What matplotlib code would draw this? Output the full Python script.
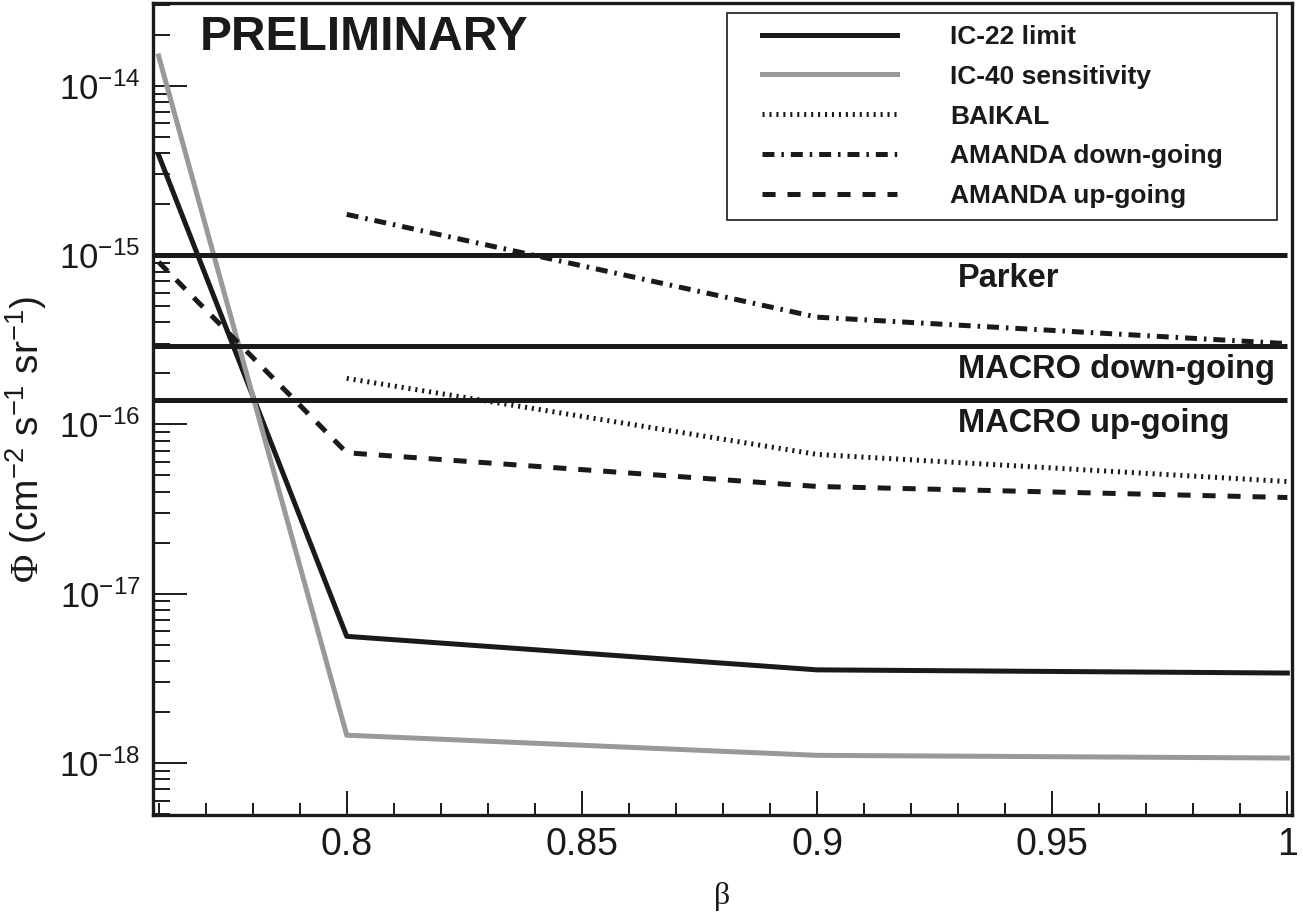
import numpy as np
import matplotlib
matplotlib.use('Agg')
import matplotlib.pyplot as plt
from matplotlib.lines import Line2D
from matplotlib.legend_handler import HandlerLine2D
from matplotlib.ticker import LogLocator, FuncFormatter, MultipleLocator, NullFormatter, FixedLocator

plt.rcParams['font.family'] = ['Liberation Sans', 'DejaVu Sans']
plt.rcParams['mathtext.fontset'] = 'custom'
plt.rcParams['mathtext.rm'] = 'Liberation Serif'
plt.rcParams['mathtext.sf'] = 'Liberation Sans'
plt.rcParams['mathtext.default'] = 'sf'
plt.rcParams['lines.scale_dashes'] = False

# values
beta_ic = [0.76, 0.8, 0.9, 1.0]
ic22_limit = [3.9e-15, 5.6e-18, 3.55e-18, 3.4e-18]
ic40_sens = [1.5e-14, 1.46e-18, 1.11e-18, 1.07e-18]

beta_other = [0.8, 0.9, 1.0]
baikal = [1.87e-16, 6.65e-17, 4.6e-17]
amanda_down = [1.74e-15, 4.3e-16, 3.0e-16]

beta_amanda_up = [0.76, 0.8, 0.9, 1.0]
amanda_up = [9.1e-16, 6.8e-17, 4.3e-17, 3.7e-17]

limit_names = ['Parker', 'MACRO down-going', 'MACRO up-going']
limit_values = [1.0e-15, 2.9e-16, 1.4e-16]

y_decades = [-18, -17, -16, -15, -14]

black = '#1a1a1a'
gray = '#999999'
lw = 3.6
xmin, xmax = 0.7588, 1.001


class OffsetLine(HandlerLine2D):
    # legend line starts a bit right of the handle box
    def get_xdata(self, legend, xdescent, ydescent, width, height, fontsize):
        x0 = -xdescent + 16.5
        x1 = -xdescent + width
        return [x0, x1], [(x0 + x1) / 2]


fig = plt.figure(figsize=(13.03, 9.15), dpi=100)
ax = fig.add_axes([0.1174, 0.1093, 0.9916 - 0.1174, 0.9967 - 0.1093])

ax.plot(beta_ic, ic22_limit, color=black, lw=lw, label='IC-22 limit')
ax.plot(beta_ic, ic40_sens, color=gray, lw=lw, label='IC-40 sensitivity')
ax.plot(beta_other, baikal, color=black, lw=lw, dashes=(1.5, 3.5),
        dash_capstyle='butt', label='BAIKAL')
ax.plot(beta_other, amanda_down, color=black, lw=lw, dashes=(8.6, 5, 1.8, 5),
        dash_capstyle='butt', label='AMANDA down-going')
ax.plot(beta_amanda_up, amanda_up, color=black, lw=lw, dashes=(9.4, 8.6),
        dash_capstyle='butt', label='AMANDA up-going')

for name, val in zip(limit_names, limit_values):
    ax.hlines(val, xmin, 1.0, color=black, lw=lw)
    ax.annotate(name, (0.93, val), xytext=(0, -17), textcoords='offset points',
                fontsize=23.5, fontweight='bold', va='center', ha='left', color=black)

ax.text(0.041, 0.958, 'PRELIMINARY', transform=ax.transAxes, fontsize=34.5,
        fontweight='bold', va='center', ha='left', color=black)

ax.set_yscale('log')
ax.set_xlim(xmin, xmax)
ax.set_ylim(10 ** -18.307, 10 ** -13.511)

ax.xaxis.set_major_locator(MultipleLocator(0.05))
ax.xaxis.set_minor_locator(MultipleLocator(0.01))
ax.xaxis.set_major_formatter(FuncFormatter(lambda v, p: '%g' % round(v, 3)))
ax.yaxis.set_major_locator(FixedLocator([10.0 ** d for d in y_decades]))
ax.yaxis.set_minor_locator(LogLocator(base=10, subs=np.arange(2, 10), numticks=20))
ax.yaxis.set_minor_formatter(NullFormatter())
ax.yaxis.set_major_formatter(FuncFormatter(lambda v, p: r'$10^{%d}$' % round(np.log10(v))))

ax.tick_params(axis='both', which='both', direction='in', top=False, right=False,
               colors=black, width=1.4)
ax.tick_params(axis='y', which='major', length=24.5, pad=9, labelsize=25)
ax.tick_params(axis='y', which='minor', length=12)
ax.tick_params(axis='x', which='major', length=17, pad=9, labelsize=27)
ax.tick_params(axis='x', which='minor', length=8.6)

for s in ax.spines.values():
    s.set_linewidth(2.4)
    s.set_color(black)

ax.set_xlabel('β', fontsize=23, family='Liberation Serif', color=black, labelpad=13)
ax.set_ylabel(r'$\mathrm{\Phi}$ (cm$^{-2}$ s$^{-1}$ sr$^{-1}$)', fontsize=28,
              color=black)
ax.yaxis.set_label_coords(-0.091, 0.462)

leg = ax.legend(loc='upper left', bbox_to_anchor=(0.504, 0, 0.483, 0.9877), mode='expand',
                borderaxespad=0, borderpad=0.45, handlelength=6.0, handletextpad=2.0,
                labelspacing=0.6, fancybox=False, framealpha=1, edgecolor=black,
                prop={'weight': 'bold', 'size': 19},
                handler_map={Line2D: OffsetLine()})
leg.get_frame().set_linewidth(1.2)
for t in leg.get_texts():
    t.set_color(black)

fig.savefig('out.png', dpi=100)
